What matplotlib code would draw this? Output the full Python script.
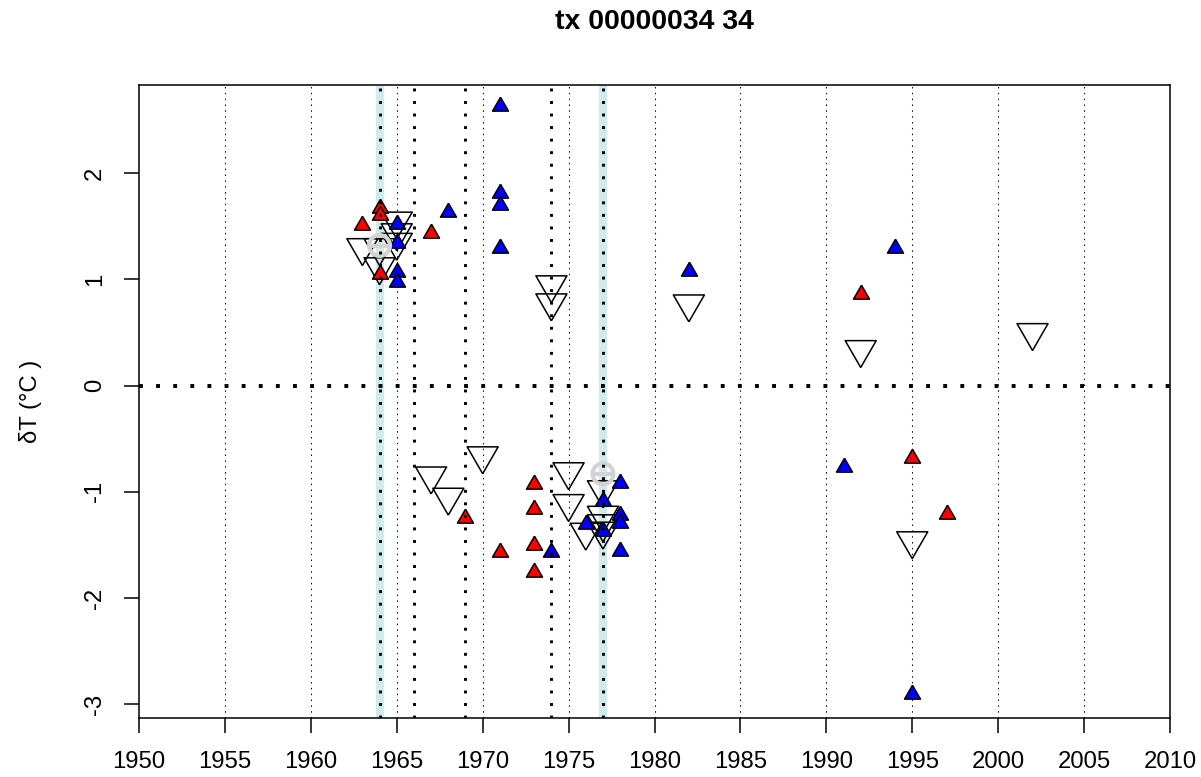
import numpy as np
import matplotlib
matplotlib.use("Agg")
from matplotlib import pyplot as plt

plt.rcParams['font.family'] = ['Liberation Sans', 'DejaVu Sans']

# filled up-triangles, blue
blue_x = [1971, 1971, 1971, 1971, 1965, 1965, 1965, 1965, 1968, 1982, 1994,
          1991, 1995, 1974, 1976, 1977, 1977, 1978, 1978, 1978, 1978]
blue_y = [2.63, 1.81, 1.70, 1.30, 1.52, 1.34, 1.07, 0.98, 1.64, 1.08, 1.30,
          -0.77, -2.90, -1.57, -1.30, -1.09, -1.37, -0.92, -1.22, -1.29, -1.56]

# filled up-triangles, red
red_x = [1963, 1964, 1964, 1964, 1967, 1992, 1995, 1997, 1969, 1971,
         1973, 1973, 1973, 1973]
red_y = [1.51, 1.67, 1.61, 1.05, 1.44, 0.86, -0.68, -1.21, -1.25, -1.57,
         -0.93, -1.16, -1.50, -1.75]

# open down-triangles
open_x = [1963, 1964, 1964, 1965, 1965, 1965, 1967, 1968, 1970, 1974, 1974,
          1982, 1992, 2002, 1995, 1975, 1975, 1976, 1977, 1977, 1977, 1977]
open_y = [1.30, 1.30, 1.12, 1.55, 1.44, 1.35, -0.85, -1.05, -0.66, 0.95, 0.78,
          0.77, 0.34, 0.50, -1.46, -0.81, -1.11, -1.38, -0.98, -1.22, -1.30, -1.37]

# grey circled marks
circ_x = [1964, 1977]
circ_y = [1.32, -0.83]

# breakpoints
cyan_years = [1964, 1977]
dot_years = [1964, 1966, 1969, 1974, 1977]
grid_years = list(range(1955, 2010, 5))

x_ticks = list(range(1950, 2011, 5))
y_ticks = [-3, -2, -1, 0, 1, 2]

up_tri = [(0, 1), (-0.866, -0.5), (0.866, -0.5), (0, 1)]
down_tri = [(0, -1), (-0.866, 0.5), (0.866, 0.5), (0, -1)]

W, H = 1201, 777
fig = plt.figure(figsize=(W / 100, H / 100), dpi=100)
ax = fig.add_axes([139 / W, 1 - 718 / H, (1170 - 139) / W, (718 - 85) / H])
ax.set_xlim(1950, 2010)
ax.set_ylim((385.7 - 718) / 106.2, (385.7 - 85) / 106.2)

for g in grid_years:
    ax.axvline(g, color='black', lw=0.75, ls=(0, (1.4, 4.2)), zorder=1)
for c in cyan_years:
    ax.axvline(c, color='#d1ebeb', lw=6, zorder=2)

ax.scatter(open_x, open_y, marker=down_tri, s=25.8 ** 2, facecolors='none',
           edgecolors='black', linewidths=1.1, zorder=3)
ax.scatter(red_x, red_y, marker=up_tri, s=13.3 ** 2, facecolors='#ff0000',
           edgecolors='black', linewidths=1.1, zorder=4)
ax.scatter(blue_x, blue_y, marker=up_tri, s=13.3 ** 2, facecolors='#0000ff',
           edgecolors='black', linewidths=1.1, zorder=4)
ax.scatter(circ_x, circ_y, marker='o', s=15 ** 2, facecolors='none',
           edgecolors='#d3d3d3', linewidths=3, zorder=5)
ax.scatter(circ_x, circ_y, marker='_', s=15 ** 2, color='#d3d3d3',
           linewidths=3, zorder=5)

for d in dot_years:
    ax.axvline(d, color='black', lw=2.1, ls=(0, (1, 3.3)), zorder=6)
ax.axhline(0, color='black', lw=2.8, ls=(0, (1, 3.4)), zorder=6)

ax.set_xticks(x_ticks)
ax.set_yticks(y_ticks)
ax.set_yticklabels([str(v) for v in y_ticks], rotation=90, va='center')
ax.tick_params(axis='both', direction='out', length=10.8, width=1.1,
               labelsize=17.2, pad=13)
for s in ax.spines.values():
    s.set_linewidth(1.1)

fig.text(654 / W, 1 - 22 / H, 'tx 00000034 34', ha='center', va='center',
         fontsize=20.5, fontweight='bold')
fig.text(30 / W, 1 - 401 / H, 'δT (°C )', rotation=90, ha='center',
         va='center', fontsize=17.2)

fig.savefig('out.png', dpi=100)
